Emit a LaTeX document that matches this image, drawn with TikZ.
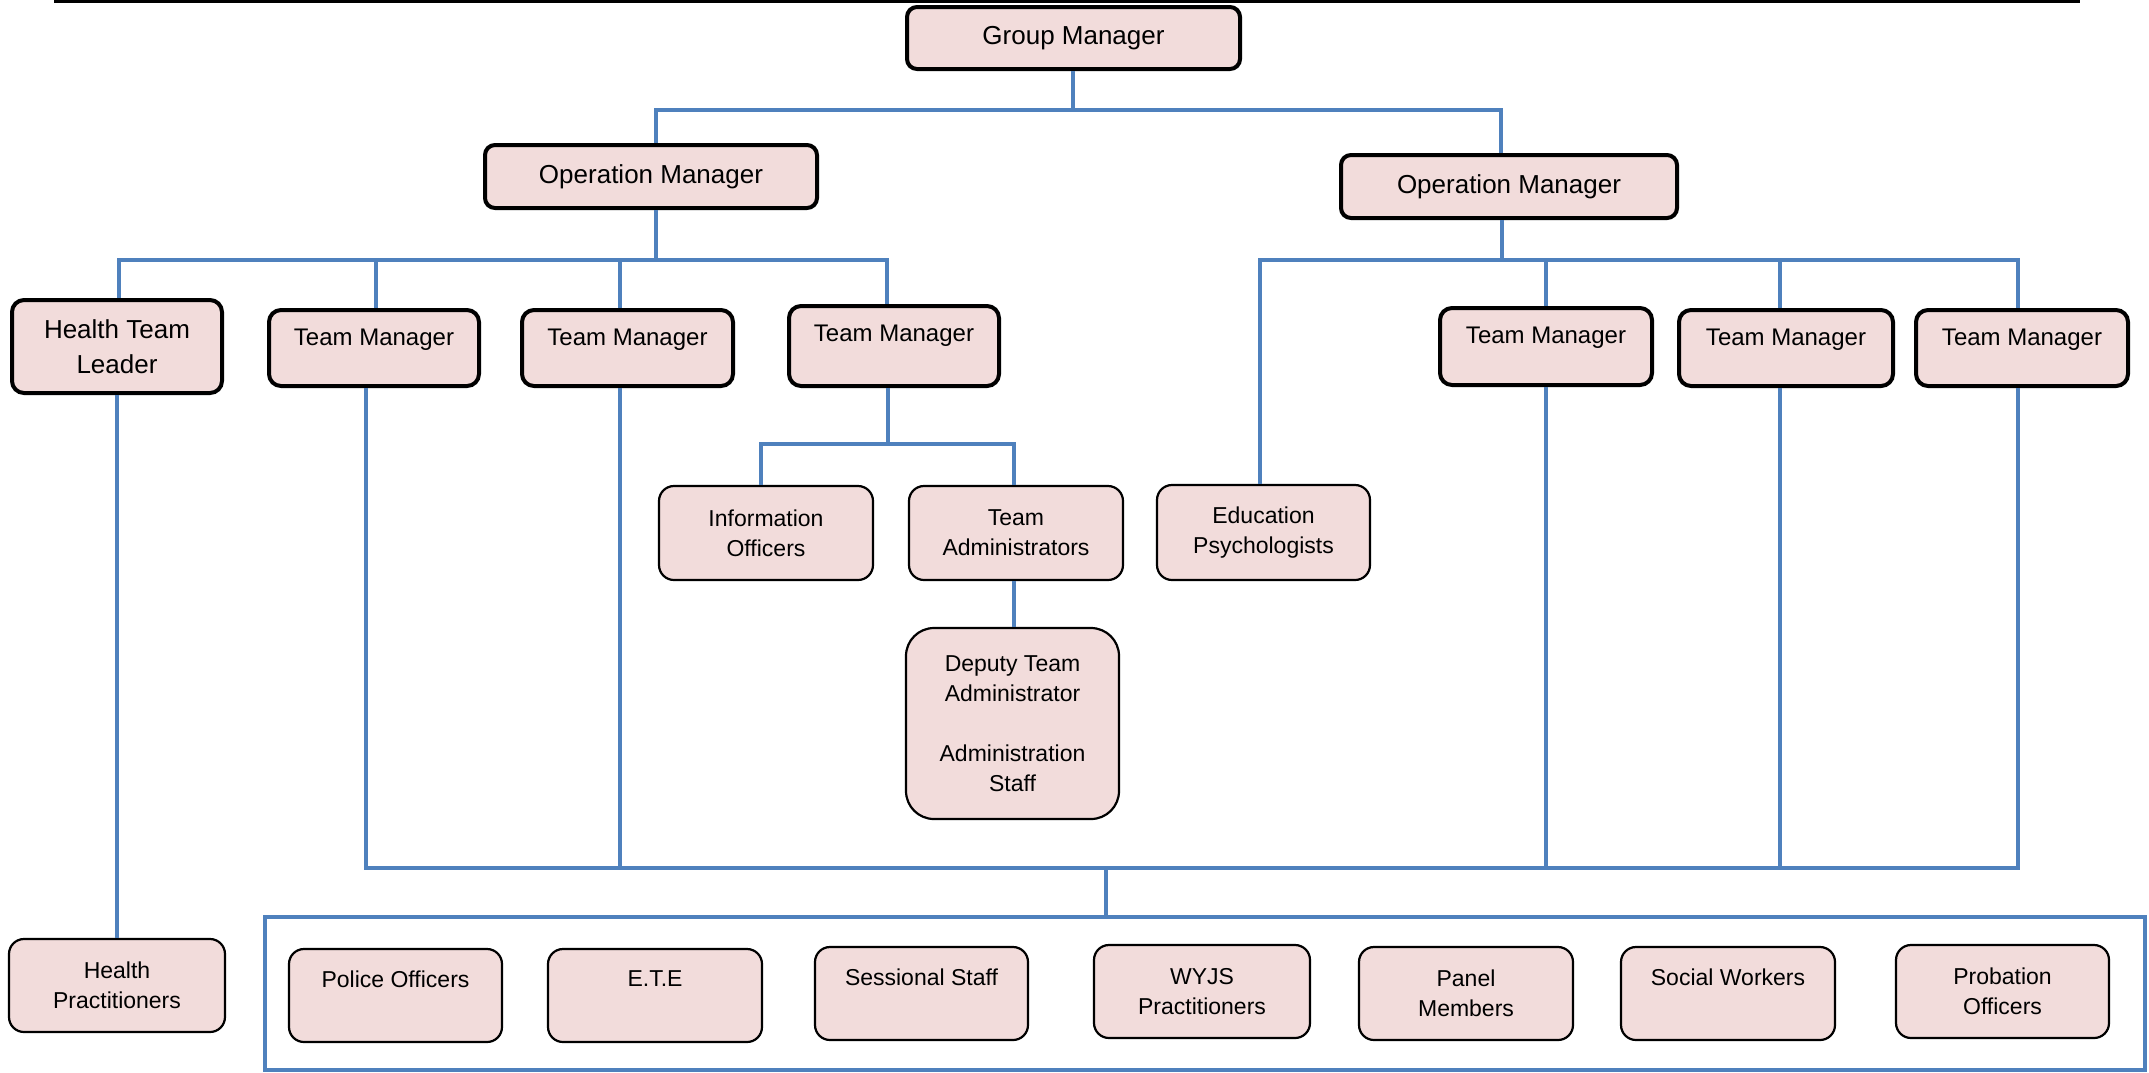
\documentclass[tikz,border=0pt]{standalone}
\usepackage{fontspec}
\setmainfont{Liberation Sans}
\definecolor{linkblue}{HTML}{4F81BD}
\definecolor{boxpink}{HTML}{F2DCDB}
\begin{document}
\begin{tikzpicture}[x=1pt,y=-1pt,
  conn/.style={draw=linkblue, line width=3.6pt},
  bigbox/.style={draw=black, line width=4pt, fill=boxpink, rounded corners=10pt, inner sep=0pt, align=center, font=\fontsize{26}{35}\selectfont},
  tmbox/.style={draw=black, line width=4pt, fill=boxpink, rounded corners=12pt, inner sep=0pt},
  smallbox/.style={draw=black, line width=2.2pt, fill=boxpink, rounded corners=15pt, inner sep=0pt, align=center, font=\fontsize{23}{30}\selectfont},
  tmlbl/.style={anchor=north, inner sep=0pt, yshift=-20.4pt, font=\fontsize{24}{30}\selectfont},
  smlbl/.style={anchor=north, inner sep=0pt, yshift=-22.6pt, font=\fontsize{23}{30}\selectfont},
  pool/.style={draw=linkblue, line width=3.6pt, inner sep=0pt}
]
\useasboundingbox (0,0) rectangle (2149,1072);
\fill[white] (0,0) rectangle (2149,1072);
% top rule
\draw[line width=3pt] (54,1.5) -- (2080,1.5);

% boxes
\node[bigbox, minimum width=333pt, minimum height=62pt] (gm) at (1073.5,38) {Group Manager};
\node[bigbox, minimum width=332pt, minimum height=63pt] (om1) at (651,176.5) {Operation Manager};
\node[bigbox, minimum width=336pt, minimum height=63pt] (om2) at (1509,186.5) {Operation Manager};

\node[bigbox, rounded corners=12pt, minimum width=210pt, minimum height=93pt] (htl) at (117,346.5) {Health Team\\Leader};
\node[tmbox, minimum width=210pt, minimum height=76pt, label={[tmlbl]north:Team Manager}] (tm1) at (374,348) {};
\node[tmbox, minimum width=211pt, minimum height=76pt, label={[tmlbl]north:Team Manager}] (tm2) at (627.5,348) {};
\node[tmbox, minimum width=210pt, minimum height=80pt, label={[tmlbl]north:Team Manager}] (tm3) at (894,346) {};
\node[tmbox, minimum width=212pt, minimum height=77pt, label={[tmlbl]north:Team Manager}] (tm4) at (1546,346.5) {};
\node[tmbox, minimum width=214pt, minimum height=76pt, label={[tmlbl]north:Team Manager}] (tm5) at (1786,348) {};
\node[tmbox, minimum width=212pt, minimum height=76pt, label={[tmlbl]north:Team Manager}] (tm6) at (2022,348) {};

\node[smallbox, minimum width=214pt, minimum height=94pt] (info) at (766,533) {Information\\Officers};
\node[smallbox, minimum width=214pt, minimum height=94pt] (tadm) at (1016,533) {Team\\Administrators};
\node[smallbox, minimum width=213pt, minimum height=95pt] (edu) at (1263.5,532.5) {Education\\Psychologists};
\node[smallbox, rounded corners=28pt, minimum width=213pt, minimum height=191pt] (dep) at (1012.5,723.5) {Deputy Team\\Administrator\\[30pt]Administration\\Staff};

\node[smallbox, minimum width=216pt, minimum height=93pt] (hpr) at (117,985.5) {Health\\Practitioners};

\node[pool, minimum width=1880pt, minimum height=153pt] (pl) at (1205,993.5) {};

\node[smallbox, minimum width=213pt, minimum height=93pt, label={[smlbl]north:Police Officers}] (pol) at (395.5,995.5) {};
\node[smallbox, minimum width=214pt, minimum height=93pt, label={[smlbl]north:E.T.E}] (ete) at (655,995.5) {};
\node[smallbox, minimum width=213pt, minimum height=93pt, label={[smlbl]north:Sessional Staff}] (ses) at (921.5,993.5) {};
\node[smallbox, minimum width=216pt, minimum height=93pt] (wyjs) at (1202,991.5) {WYJS\\Practitioners};
\node[smallbox, minimum width=214pt, minimum height=93pt] (pan) at (1466,993.5) {Panel\\Members};
\node[smallbox, minimum width=214pt, minimum height=93pt, label={[smlbl]north:Social Workers}] (soc) at (1728,993.5) {};
\node[smallbox, minimum width=213pt, minimum height=93pt] (prob) at (2002.5,991.5) {Probation\\Officers};

% bus points
\coordinate (g1) at (1073,110);
\coordinate (o1) at (656,110);
\coordinate (o2) at (1501,110);
\coordinate (p0) at (656,260);
\coordinate (h) at (119,260);
\coordinate (t1) at (376,260);
\coordinate (t2) at (620,260);
\coordinate (t3) at (887,260);
\coordinate (q0) at (1502,260);
\coordinate (e) at (1260,260);
\coordinate (t4) at (1546,260);
\coordinate (t5) at (1780,260);
\coordinate (t6) at (2018,260);
\coordinate (s0) at (888,444);
\coordinate (i) at (761,444);
\coordinate (a) at (1014,444);
\coordinate (c1) at (366,868);
\coordinate (c2) at (620,868);
\coordinate (cm) at (1106,868);
\coordinate (c4) at (1546,868);
\coordinate (c5) at (1780,868);
\coordinate (c6) at (2018,868);

% connectors
\draw[conn] (gm.south -| g1) -- (g1);
\draw[conn] (om1.north -| o1) -- (o1) -- (o2) -- (om2.north -| o2);

\draw[conn] (om1.south -| p0) -- (p0);
\draw[conn] (htl.north -| h) -- (h) -- (t3) -- (tm3.north -| t3);
\draw[conn] (tm1.north -| t1) -- (t1);
\draw[conn] (tm2.north -| t2) -- (t2);

\draw[conn] (om2.south -| q0) -- (q0);
\draw[conn] (edu.north -| e) -- (e) -- (t6) -- (tm6.north -| t6);
\draw[conn] (tm4.north -| t4) -- (t4);
\draw[conn] (tm5.north -| t5) -- (t5);

\draw[conn] (tm3.south -| s0) -- (s0);
\draw[conn] (info.north -| i) -- (i) -- (a) -- (tadm.north -| a);
\draw[conn] (tadm.south -| a) -- (dep.north -| a);

\draw[conn] (htl.south) -- (hpr.north);

\draw[conn] (tm1.south -| c1) -- (c1) -- (c6) -- (tm6.south -| c6);
\draw[conn] (tm2.south -| c2) -- (c2);
\draw[conn] (tm4.south -| c4) -- (c4);
\draw[conn] (tm5.south -| c5) -- (c5);
\draw[conn] (cm) -- (pl.north -| cm);
\end{tikzpicture}
\end{document}
